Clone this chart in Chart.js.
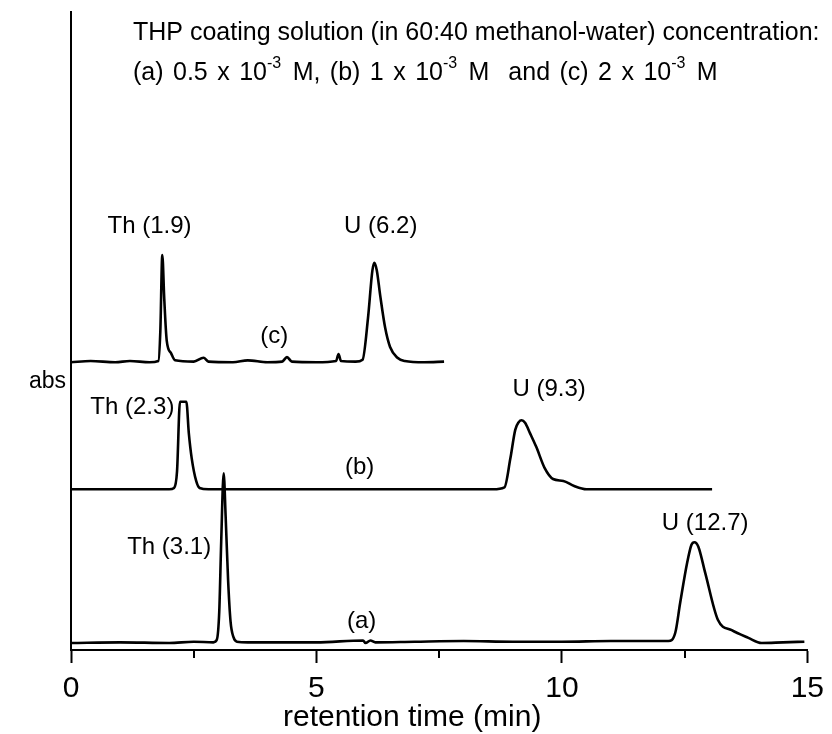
<!DOCTYPE html>
<html>
<head>
<meta charset="utf-8">
<script src="https://cdn.jsdelivr.net/npm/chart.js@4/dist/chart.umd.min.js"></script>
<style>
  html, body { margin: 0; padding: 0; background: #fff; }
  #wrap { width: 832px; height: 734px; }
</style>
</head>
<body>
<div id="wrap"><canvas id="chrom"></canvas></div>
<script>
// retention time (min) and absorbance (arbitrary, stacked offsets)
const timeA = [0, 1.0, 2.0, 2.5, 2.9, 2.97, 3.02, 3.06, 3.11, 3.15, 3.2, 3.25, 3.31, 3.38, 3.6, 4.0, 5.0, 5.95, 6.0, 6.1, 6.2, 7.0, 8.0, 9.0, 10.0, 11.0, 12.0, 12.17, 12.31, 12.41, 12.55, 12.64, 12.7, 12.78, 12.92, 13.18, 13.46, 13.8, 14.07, 14.5, 14.94];
const absA  = [1.1, 1.2, 1.1, 1.3, 1.2, 1.6, 6.0, 17.0, 27.7, 21.0, 11.0, 4.5, 2.0, 1.3, 1.2, 1.2, 1.2, 1.5, 1.1, 1.5, 1.2, 1.3, 1.4, 1.3, 1.3, 1.4, 1.4, 1.4, 2.7, 7.4, 13.6, 16.5, 16.9, 16.2, 12.1, 4.7, 3.1, 1.9, 1.1, 1.2, 1.3];

const timeB = [0, 1.0, 2.0, 2.1, 2.16, 2.22, 2.35, 2.4, 2.46, 2.55, 2.62, 2.8, 4.0, 6.0, 8.0, 8.6, 8.83, 8.95, 9.05, 9.12, 9.18, 9.25, 9.35, 9.48, 9.65, 9.82, 10.03, 10.25, 10.5, 11.5, 13.06];
const absB  = [25.2, 25.2, 25.2, 25.4, 28.0, 38.9, 38.9, 34.0, 30.0, 26.5, 25.4, 25.2, 25.2, 25.2, 25.2, 25.2, 25.5, 30.0, 34.5, 35.7, 36.0, 35.6, 34.0, 31.8, 28.5, 26.8, 26.5, 25.7, 25.2, 25.2, 25.2];

const timeC = [0, 0.4, 0.9, 1.2, 1.6, 1.78, 1.82, 1.86, 1.9, 1.95, 2.04, 2.12, 2.5, 2.7, 2.8, 3.3, 3.6, 4.0, 4.3, 4.4, 4.5, 5.0, 5.4, 5.45, 5.5, 5.8, 5.94, 6.05, 6.14, 6.18, 6.23, 6.3, 6.4, 6.5, 6.65, 6.8, 7.2, 7.6];
const absC  = [45.1, 45.3, 45.1, 45.3, 45.1, 45.3, 50.0, 61.9, 55.0, 48.5, 46.5, 45.4, 45.2, 45.8, 45.2, 45.1, 45.4, 45.1, 45.2, 45.9, 45.2, 45.1, 45.3, 46.4, 45.3, 45.2, 45.5, 52.0, 59.5, 60.7, 59.5, 55.5, 50.5, 47.5, 45.8, 45.3, 45.1, 45.2];

const xTicks = [0, 5, 10, 15];
const xMinorTicks = [2.5, 7.5, 12.5];

// peak labels: text, time, abs
const peakLabels = ["Th (1.9)", "U (6.2)", "(c)", "Th (2.3)", "U (9.3)", "(b)", "Th (3.1)", "U (12.7)", "(a)"];
const peakLabelX = [1.60, 6.31, 4.14, 1.25, 9.74, 5.88, 2.00, 12.92, 5.92];
const peakLabelY = [66.4, 66.4, 49.1, 38.1, 40.8, 28.7, 16.1, 19.9, 4.5];

const FONT = "'Liberation Sans', Arial, sans-serif";

function pts(t, a) {
  return t.map((v, i) => ({ x: v, y: a[i] }));
}

const textPlugin = {
  id: "chromTexts",
  afterDraw: (chart) => {
    const ctx = chart.ctx;
    const xs = chart.scales.x;
    const ys = chart.scales.y;
    ctx.save();
    ctx.fillStyle = "#000";
    ctx.textBaseline = "middle";

    // peak labels
    ctx.font = "24px " + FONT;
    ctx.textAlign = "center";
    peakLabels.forEach((txt, i) => {
      ctx.fillText(txt, xs.getPixelForValue(peakLabelX[i]), ys.getPixelForValue(peakLabelY[i]));
    });

    // x axis title (sits a bit left of the axis centre in the original)
    ctx.font = "30px " + FONT;
    ctx.fillText("retention time (min)", xs.getPixelForValue(6.95), 718);

    // minor ticks under the x axis
    ctx.strokeStyle = "#000";
    ctx.lineWidth = 2;
    xMinorTicks.forEach((v) => {
      const px = Math.round(xs.getPixelForValue(v));
      ctx.beginPath();
      ctx.moveTo(px, chart.chartArea.bottom);
      ctx.lineTo(px, chart.chartArea.bottom + 8);
      ctx.stroke();
    });

    // y axis label, horizontal
    ctx.font = "23px " + FONT;
    ctx.textAlign = "left";
    ctx.fillText("abs", 29, 382);

    // header text
    ctx.font = "25px " + FONT;
    ctx.fillText("THP coating solution (in 60:40 methanol-water) concentration:", 133, 33);

    const parts = [
      ["(a) 0.5 x 10", false], ["-3", true], [" M, (b) 1 x 10", false], ["-3", true],
      [" M  and (c) 2 x 10", false], ["-3", true], [" M", false],
    ];
    let cx = 133;
    parts.forEach(([s, sup]) => {
      ctx.font = (sup ? "16px " : "25px ") + FONT;
      const y = sup ? 64 : 73;
      for (const ch of s.split(/( )/)) {
        if (ch === "") continue;
        if (ch === " ") {
          cx += ctx.measureText(" ").width + 2.5;
        } else {
          ctx.fillText(ch, cx, y);
          cx += ctx.measureText(ch).width + (sup ? 2 : 0);
        }
      }
    });
    ctx.restore();
  },
};

const ctx = document.getElementById("chrom").getContext("2d");
const lineStyle = {
  borderColor: "#000",
  borderWidth: 2.6,
  pointRadius: 0,
  fill: false,
  cubicInterpolationMode: "monotone",
};

new Chart(ctx, {
  type: "line",
  data: {
    datasets: [
      Object.assign({ label: "(a)", data: pts(timeA, absA) }, lineStyle),
      Object.assign({ label: "(b)", data: pts(timeB, absB) }, lineStyle),
      Object.assign({ label: "(c)", data: pts(timeC, absC) }, lineStyle),
    ],
  },
  options: {
    responsive: true,
    maintainAspectRatio: false,
    animation: false,
    layout: { padding: { left: 71, right: 19, top: 12, bottom: 0 } },
    plugins: {
      legend: { display: false },
      tooltip: { enabled: false },
    },
    scales: {
      x: {
        type: "linear",
        min: 0,
        max: 15,
        afterFit: (s) => { s.height = 84; },
        afterBuildTicks: (s) => { s.ticks = xTicks.map((v) => ({ value: v })); },
        ticks: {
          autoSkip: false,
          maxRotation: 0,
          color: "#000",
          padding: 8,
          font: { family: FONT, size: 30 },
        },
        grid: {
          drawOnChartArea: false,
          drawTicks: true,
          tickLength: 13,
          tickWidth: 2,
          tickColor: "#000",
        },
        border: { display: true, color: "#000", width: 2 },
      },
      y: {
        type: "linear",
        min: 0,
        max: 100,
        afterFit: (s) => { s.width = 0; },
        ticks: { display: false },
        grid: { drawOnChartArea: false, drawTicks: false },
        border: { display: true, color: "#000", width: 2 },
      },
    },
  },
  plugins: [textPlugin],
});
</script>
</body>
</html>
